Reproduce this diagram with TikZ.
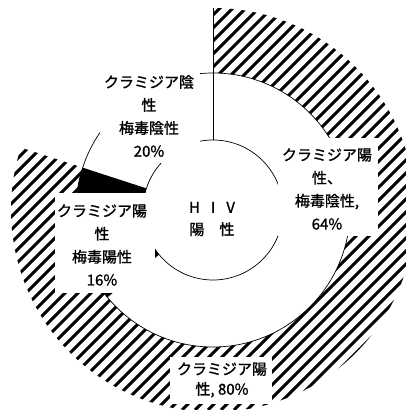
\documentclass[tikz,border=0pt]{standalone}
\usepackage{fontspec}
\setmainfont{Noto Sans CJK JP}[BoldFont={Noto Sans CJK JP},BoldFeatures={FakeBold=1.2}]
\usetikzlibrary{calc}

\tikzset{
  lbl/.style={align=center,inner sep=0pt,font=\fontsize{15}{23}\selectfont\bfseries},
  cover/.style={fill=white,draw=none},
  hatchline/.style={line width=3.1pt},
  rim/.style={line width=0.7pt}
}

\begin{document}
\begin{tikzpicture}[x=1pt,y=1pt]
\useasboundingbox (0,0) rectangle (406,410);
\coordinate (c) at (213,200);
% outer ring, hatched part (80%)
\begin{scope}
\clip ($(c)+(90:137)$) -- ($(c)+(90:202)$) arc(90:-198:202) -- ($(c)+(162:137)$) arc(162:450:137) -- cycle;
\foreach \k in {-33,...,32} \draw[hatchline] (13*\k,0) -- ++(420,420);
\end{scope}
% middle ring, black part (16%)
\fill ($(c)+(162:70)$) -- ($(c)+(162:137)$) arc(162:219.6:137) -- ($(c)+(219.6:70)$) arc(219.6:162:70) -- cycle;
\draw[rim] (c) circle(70);
\draw[rim] (c) circle(137);
\draw[line width=0.9pt] ($(c)+(90:70)$) -- ($(c)+(90:202)$);
% label covers
\fill[cover] (100,247) rectangle (200,337);
\fill[cover] (278,174) rectangle (378,272);
\fill[cover] (55,117) rectangle (155,217);
\fill[cover] (170,6) rectangle (272,53);
\node[lbl] (neg) at (149,294) {クラミジア陰\\性\\梅毒陰性\\20\%};
\node[lbl] (pos64) at (327,221) {クラミジア陽\\性、\\梅毒陰性,\\64\%};
\node[lbl] (pos16) at (102,165) {クラミジア陽\\性\\梅毒陽性\\16\%};
\node[lbl,font=\fontsize{15}{20}\selectfont\bfseries] (pos80) at (222,30) {クラミジア陽\\性, 80\%};
\node[lbl,font=\fontsize{15}{22}\selectfont\bfseries] (hiv) at (212,191) {H\hspace{11pt}I\hspace{11pt}V\\陽　性};
\end{tikzpicture}
\end{document}
